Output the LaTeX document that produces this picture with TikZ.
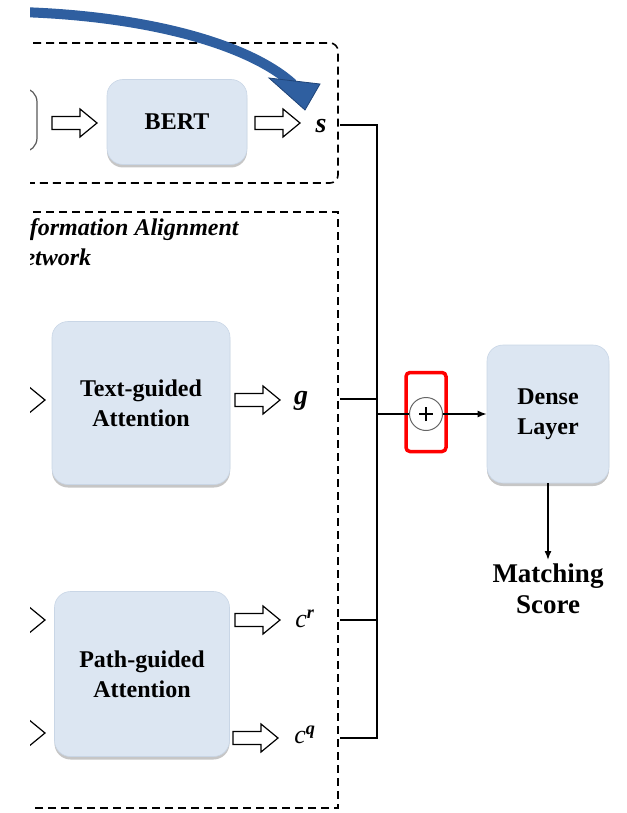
\documentclass[tikz,border=0pt]{standalone}
\usepackage{fontspec}
\setmainfont{Liberation Serif}
\usetikzlibrary{shadows,arrows.meta}
\definecolor{boxblue}{HTML}{DCE6F2}
\definecolor{boxedge}{HTML}{C9D6E6}
\definecolor{bigblue}{HTML}{2F5FA0}
\definecolor{bigblueedge}{HTML}{1F4478}
\tikzset{
  block/.style={rounded corners=16pt, fill=boxblue, draw=boxedge, line width=0.6pt,
    align=center, font=\fontsize{24}{30}\selectfont\bfseries,
    drop shadow={opacity=0.45, shadow xshift=0pt, shadow yshift=-3pt}},
  dashbox/.style={dash pattern=on 8pt off 5pt, line width=1.6pt},
  wire/.style={line width=1.5pt},
  lbl/.style={font=\fontsize{28}{28}\selectfont\bfseries\itshape, inner sep=0pt},
  harrow/.pic={\draw[line width=1.2pt, fill=white, line join=miter]
     (0,-6.5) -- (28,-6.5) -- (28,-14) -- (45,0) -- (28,14) -- (28,6.5) -- (0,6.5) -- cycle;}
}
\begin{document}
\begin{tikzpicture}[x=1pt,y=-1pt]
\useasboundingbox (0,0) rectangle (626,813);
\begin{scope}
\clip (30,0) rectangle (626,813);
% dashed boxes
\draw[dashbox, rounded corners=8pt] (20,43) -- (338,43) -- (338,183) -- (20,183);
\draw[dashbox] (20,212) -- (338,212) -- (338,808) -- (20,808);
% title
\node[anchor=north west, align=left, inner sep=0pt, font=\fontsize{24}{30}\selectfont\bfseries\itshape] (title) at (7,218) {Information Alignment\\Network};
% partial left box
\node[rounded corners=14pt, draw=black!65, line width=1.2pt, fill=white, minimum width=74pt, minimum height=64pt] (prev) at (0,120) {};
% boxes
\node[block, minimum width=140pt, minimum height=85pt] (bert) at (177,122) {BERT};
\node[block, minimum width=178pt, minimum height=163pt] (tga) at (141,403) {Text-guided\\Attention};
\node[block, minimum width=175pt, minimum height=165pt] (pga) at (142,674) {Path-guided\\Attention};
% hollow arrows
\pic at (52,123) {harrow};
\pic at (255,123) {harrow};
\pic at (0,400) {harrow};
\pic at (235,400) {harrow};
\pic at (0,620) {harrow};
\pic at (0,733) {harrow};
\pic at (235,620) {harrow};
\pic at (233,738) {harrow};
% labels
\node[lbl] (s) at (321,126) {s};
\node[lbl] (g) at (301,401) {g};
\node[lbl, font=\fontsize{26}{26}\selectfont\itshape] (cr) at (305,619) {c\textsuperscript{\bfseries r}};
\node[lbl, font=\fontsize{26}{26}\selectfont\itshape] (cq) at (305,735) {c\textsuperscript{\bfseries q}};
% big blue arrow
\draw[bigblue, line width=10pt] (20,12) .. controls (150,16) and (250,45) .. (293,84);
\fill[bigblue, draw=bigblueedge, line width=0.8pt] (269,78) -- (320,84) -- (305,110) -- cycle;
\end{scope}
% wires
\coordinate (s0) at (340,125);
\coordinate (g0) at (340,399);
\coordinate (r0) at (340,620);
\coordinate (q0) at (340,738);
\coordinate (sj) at (377,125);
\coordinate (gj) at (377,399);
\coordinate (rj) at (377,620);
\coordinate (qj) at (377,738);
\coordinate (mj) at (377,414);
\draw[wire] (s0) -- (sj) -- (qj) -- (q0);
\draw[wire] (g0) -- (gj);
\draw[wire] (r0) -- (rj);
\node[circle, draw=black!60, line width=1pt, minimum size=33pt, inner sep=0pt] (plus) at (426,414) {};
\draw[line width=1.8pt] ([xshift=-7pt]plus.center) -- ([xshift=7pt]plus.center) ([yshift=-7pt]plus.center) -- ([yshift=7pt]plus.center);
\node[draw=red, line width=3.5pt, rounded corners=4pt, minimum width=40pt, minimum height=79pt] (hl) at (426,412) {};
\draw[wire] (mj) -- (plus.west);
\node[block, minimum width=122pt, minimum height=138pt] (dense) at (548,414) {Dense\\Layer};
\draw[wire, -{Latex[length=9pt,width=7pt]}] (plus.east) -- (dense.west);
\node[font=\fontsize{27}{31}\selectfont\bfseries, align=center, anchor=north] (score) at (548,560) {Matching\\Score};
\draw[wire, -{Latex[length=9pt,width=7pt]}] (dense.south) -- (score.north);
\end{tikzpicture}
\end{document}
